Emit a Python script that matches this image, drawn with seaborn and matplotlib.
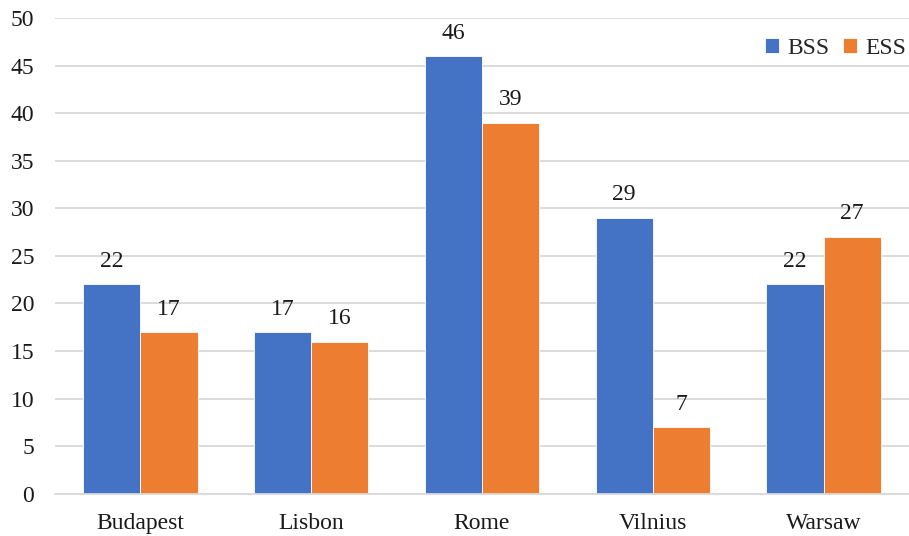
import pandas as pd
import matplotlib.pyplot as plt
import seaborn as sns

cities = ["Budapest", "Lisbon", "Rome", "Vilnius", "Warsaw"]
bss = [22, 17, 46, 29, 22]
ess = [17, 16, 39, 7, 27]
series = ["BSS", "ESS"]

df = pd.DataFrame({
    "city": cities * 2,
    "value": bss + ess,
    "series": ["BSS"] * len(cities) + ["ESS"] * len(cities),
})

sns.set_style("white")
plt.rcParams["font.family"] = ["Liberation Serif", "DejaVu Serif"]

fig = plt.figure(figsize=(9.09, 5.36), dpi=100)
ax = fig.add_axes([0.0605, 0.079, 0.9395, 0.887])

sns.barplot(data=df, x="city", y="value", hue="series", hue_order=series,
            palette=["#4472C4", "#ED7D31"], width=0.67, saturation=1,
            edgecolor="white", linewidth=0.6, ax=ax)

for cont in ax.containers:
    ax.bar_label(cont, padding=9, fontsize=17, color="#1a1a1a")

ax.set_ylim(0, 50)
ax.set_yticks(range(0, 51, 5))
ax.yaxis.grid(True, color="#D9D9D9", linewidth=1.3)
ax.set_axisbelow(True)
for s in ["top", "right", "left"]:
    ax.spines[s].set_visible(False)
ax.spines["bottom"].set_color("#D9D9D9")
ax.spines["bottom"].set_linewidth(1.3)
ax.set_xlabel("")
ax.set_ylabel("")
ax.tick_params(axis="both", length=0, labelsize=17, colors="#1a1a1a")
ax.tick_params(axis="y", pad=15)
ax.tick_params(axis="x", pad=14)

ax.legend(title=None, loc="upper right", bbox_to_anchor=(1.0, 0.964), frameon=False,
          fontsize=17, ncol=2, handlelength=0.6, handleheight=0.6,
          handletextpad=0.35, columnspacing=0.6, borderaxespad=0.0, borderpad=0.1)

fig.savefig("out.png", dpi=100)
